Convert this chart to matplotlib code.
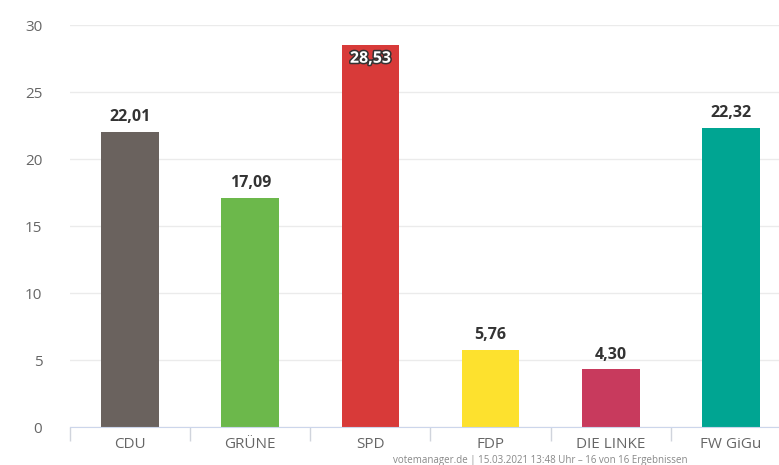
import matplotlib.pyplot as plt
import matplotlib.patheffects as pe
import numpy as np

# Stimmenanteile in Prozent
parteien = ['CDU', 'GRÜNE', 'SPD', 'FDP', 'DIE LINKE', 'FW GiGu']
anteile = [22.01, 17.09, 28.53, 5.76, 4.30, 22.32]
farben = ['#6a625e', '#6cb84b', '#d83a39', '#fde12e', '#c83a5d', '#00a592']
yticks = [0, 5, 10, 15, 20, 25, 30]

plt.rcParams['font.family'] = ['Open Sans', 'DejaVu Sans']

fig = plt.figure(figsize=(7.79, 4.65), dpi=100)
ax = fig.add_axes([70 / 779, 1 - 427 / 465, 721 / 779, 402 / 465])

x = np.arange(len(parteien))
bars = ax.bar(x, anteile, width=0.48, color=farben, zorder=2)

for xi, val in zip(x, anteile):
    txt = f'{val:.2f}'.replace('.', ',')
    if val > 27:
        ax.text(xi, val - 0.45, txt, ha='center', va='top', fontsize=11.5,
                fontweight='bold', color='white', zorder=3,
                path_effects=[pe.withStroke(linewidth=2.2, foreground='#333333')])
    else:
        ax.text(xi, val + 0.5, txt, ha='center', va='bottom', fontsize=11.5,
                fontweight='bold', color='#333333', zorder=3)

ax.set_xlim(-0.5, len(parteien) - 0.5)
ax.set_ylim(0, 30)
ax.set_yticks(yticks)
ax.set_yticklabels([str(t) for t in yticks])
ax.grid(axis='y', color='#ebebeb', linewidth=1, zorder=0)

ax.set_xticks(x)
ax.set_xticklabels(parteien)
ax.set_xticks(np.arange(-0.5, len(parteien), 1), minor=True)
ax.tick_params(axis='x', which='major', length=0, pad=7, labelsize=11, labelcolor='#666666')
ax.tick_params(axis='x', which='minor', length=10, color='#d0d4dc', width=1)
ax.tick_params(axis='y', length=0, pad=20, labelsize=11, labelcolor='#666666')

for s in ['top', 'right', 'left']:
    ax.spines[s].set_visible(False)
ax.spines['bottom'].set_color('#ccd6eb')
ax.set_axisbelow(True)

# Quelle unten, im Original am Rand angeschnitten
fig.text(393 / 779, 1 - 455 / 465, 'votemanager.de | 15.03.2021 13:48 Uhr – 16 von 16 Ergebnissen',
         ha='left', va='top', fontsize=7, color='#888888')

fig.savefig('out.png', dpi=100)
